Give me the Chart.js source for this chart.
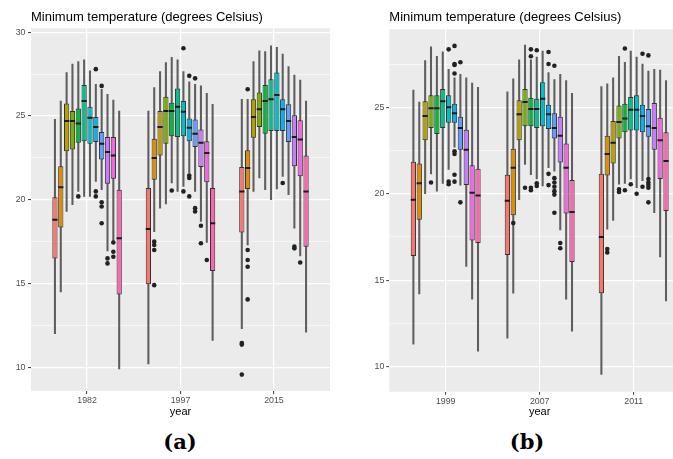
<!DOCTYPE html>
<html><head><meta charset="utf-8">
<script src="https://cdn.jsdelivr.net/npm/chart.js@4"></script>
<style>
html,body{margin:0;padding:0;background:#fff;width:673px;height:459px;overflow:hidden;position:relative}
#wa{position:absolute;left:0;top:0;width:340px;height:420px}
#wb{position:absolute;left:345px;top:0;width:360px;height:420px}
.lab{position:absolute;top:430px;line-height:24px;font-family:"DejaVu Serif",serif;font-weight:bold;font-size:21px;transform:translateX(-50%);color:#000;white-space:nowrap}
</style></head><body>
<div id="wa"><canvas id="ca"></canvas></div>
<div id="wb"><canvas id="cb"></canvas></div>
<div class="lab" style="left:180px">(a)</div>
<div class="lab" style="left:527px">(b)</div>
<script>
const monthColors = ['#F8766D','#DE8C00','#B79F00','#7CAE00','#00BA38','#00C08B','#00BFC4','#00B4F0','#619CFF','#C77CFF','#F564E3','#FF64B0'];
const titleText = 'Minimum temperature (degrees Celsius)';

// ---------- Panel (a) ----------
const yearsA = ['1982','1997','2015'];
const loA = [
  [12.0,14.5,19.3,19.7,20.5,20.2,20.2,21.1,20.6,16.95,17.5,9.9],
  [10.2,18.1,19.5,19.75,21.0,20.5,20.8,21.6,20.5,18.7,17.45,11.6],
  [12.3,17.3,20.5,21.3,20.6,20.0,20.65,21.4,20.3,18.3,16.65,12.1]
];
const q1A = [
  [16.5,18.35,22.9,23.0,23.4,23.5,23.35,23.45,22.4,20.95,21.25,14.35],
  [14.95,21.2,22.65,23.35,23.8,23.75,23.8,23.5,23.15,21.95,21.05,15.75],
  [18.05,20.65,23.7,24.35,23.95,24.1,24.1,24.1,23.45,22.0,21.4,17.2]
];
const medA = [
  [18.8,20.75,24.7,24.7,24.55,25.9,24.9,24.35,23.35,22.85,22.65,17.7],
  [18.25,22.5,24.35,25.3,25.3,25.55,25.25,24.3,23.95,23.4,22.8,18.6],
  [20.5,21.9,24.95,25.4,25.9,26.0,26.25,25.4,24.7,23.75,23.6,20.5]
];
const q3A = [
  [20.15,22.0,25.75,25.3,25.45,26.85,25.55,24.95,24.05,23.75,23.75,20.6],
  [20.7,23.65,25.3,26.15,25.8,26.65,25.9,24.85,24.8,24.2,23.5,20.7],
  [21.95,22.95,26.0,26.4,26.85,27.2,27.6,26.0,25.7,25.05,24.75,22.65]
];
const hiA = [
  [24.8,25.9,27.6,28.1,28.25,28.35,27.7,26.9,26.6,26.3,25.95,25.3],
  [25.3,26.7,27.65,28.2,28.5,28.35,27.65,27.05,26.9,26.8,26.35,25.7],
  [26.0,26.0,28.25,28.9,28.85,29.2,29.1,28.7,27.95,27.45,27.15,25.9]
];
const outA = [
  [[],[],[],[],[20.2],[],[],[27.8,20.5,20.2],[26.8,19.85,19.6,18.6],[16.5,16.2],[17.45,16.9,16.6],[]],
  [[],[17.5,17.3,17.0,14.9],[],[],[20.55],[],[29.05,20.5],[27.4,21.45,21.3,20.2],[27.25,19.5,19.3],[18.45,17.4],[16.4],[]],
  [[11.45,11.35,9.56],[26.6,17.0,16.4,16.0,14.05],[],[],[],[],[],[21.0],[],[17.2,17.1],[16.25],[]]
];
const yMajorA = [10,15,20,25,30];
const yMinorA = [12.5,17.5,22.5,27.5];

// ---------- Panel (b) ----------
const yearsB = ['1999','2007','2011'];
const loB = [
  [11.3,14.2,20.0,21.15,20.15,20.6,21.4,22.7,20.5,15.8,13.9,10.9],
  [11.65,14.25,19.65,21.7,21.1,20.85,20.45,21.5,21.3,17.9,13.9,12.05],
  [9.55,17.95,18.45,20.55,20.6,20.85,20.35,20.75,20.95,18.9,16.35,13.8]
];
const q1B = [
  [16.4,18.5,23.1,23.8,23.45,23.8,24.1,24.1,22.55,20.5,17.3,17.15],
  [16.45,18.75,23.1,23.9,23.9,23.8,23.9,23.75,23.2,21.8,18.85,16.05],
  [14.25,21.05,21.75,23.2,23.55,23.65,23.65,23.55,23.3,22.55,20.85,19.0]
];
const medB = [
  [19.65,20.6,24.5,24.95,24.95,25.35,25.0,24.65,23.8,22.55,20.05,19.9],
  [19.6,21.5,24.6,25.3,24.9,24.9,25.5,24.6,23.8,23.35,21.5,18.95],
  [17.5,22.3,22.95,24.15,24.35,24.85,24.85,24.5,23.9,23.8,23.1,21.9]
];
const q3B = [
  [21.85,21.75,25.35,25.7,25.7,26.05,25.7,25.2,24.45,23.7,21.65,21.45],
  [21.1,22.6,25.4,26.05,25.55,25.5,26.45,25.15,24.65,24.45,22.9,20.8],
  [21.15,23.35,24.2,25.1,25.2,25.6,25.7,25.15,24.9,25.25,24.4,23.55]
];
const hiB = [
  [26.0,25.3,27.7,28.5,27.95,28.2,27.2,26.7,26.9,26.7,26.4,26.15],
  [25.9,26.65,27.75,28.6,27.75,27.9,28.25,27.0,26.6,26.9,26.55,25.8],
  [26.2,26.35,26.7,27.95,27.6,28.25,27.9,27.5,27.1,27.2,27.15,26.55]
];
const outB = [
  [[],[],[],[20.65],[],[],[28.35,20.7,20.55],[28.55,27.5,27.45,26.95,22.45,22.3,21.1,20.7],[27.6,19.5],[],[],[]],
  [[],[18.3],[],[20.35],[28.35,27.95,20.35,20.2],[28.3,20.6,20.45],[],[28.2,27.5,21.15,20.5],[27.4,20.9,20.65,20.4,20.15,19.95,18.9],[17.15,16.85],[],[]],
  [[],[16.8,16.6],[],[20.25,20.1],[28.4,20.2],[20.55],[20.0],[28.1,20.4],[28.0,20.85,20.65,20.5,20.35,19.5],[],[],[]]
];
const yMajorB = [10,15,20,25];
const yMinorB = [12.5,17.5,22.5,27.5];

Chart.defaults.font.family = '"Liberation Sans", Arial, sans-serif';
Chart.defaults.animation = false;

const panelBg = {
  id: 'panelBg',
  beforeDraw(chart) {
    const a = chart.chartArea, ctx = chart.ctx;
    ctx.save(); ctx.fillStyle = '#EBEBEB';
    ctx.fillRect(a.left, a.top, a.right - a.left, a.bottom - a.top);
    ctx.restore();
  }
};

function buildPanel(id, cfg) {
  const dodge = 0.75 / 12;
  const xOf = (g, m) => g + 1 + (m - 5.5) * dodge;
  const boxes = [], whiskers = [], medians = [], outliers = [];
  for (let g = 0; g < cfg.years.length; g++) {
    for (let m = 0; m < 12; m++) {
      const x = xOf(g, m);
      boxes.push({x, y: [cfg.q1[g][m], cfg.q3[g][m]]});
      whiskers.push({x, y: [cfg.lo[g][m], cfg.hi[g][m]]});
      medians.push({x, y: cfg.med[g][m]});
      cfg.out[g][m].forEach(v => outliers.push({x, y: v}));
    }
  }
  const allTicks = cfg.yMajor.concat(cfg.yMinor).sort((a, b) => a - b);
  const isMajor = v => cfg.yMajor.includes(v);
  new Chart(document.getElementById(id), {
    type: 'bar',
    data: {
      datasets: [
        {type: 'bar', data: whiskers, backgroundColor: '#5e5e5e', barThickness: 1.4, grouped: false, order: 3, borderWidth: 0},
        {type: 'bar', data: boxes, backgroundColor: c => monthColors[c.dataIndex % 12], borderColor: '#333333', borderWidth: 1,
          borderSkipped: false, grouped: false, barPercentage: 0.9, categoryPercentage: 1, order: 2},
        {type: 'scatter', data: medians, pointStyle: 'line', pointRadius: 2.6, pointHoverRadius: 2.6,
          borderColor: '#1a1a1a', pointBorderColor: '#1a1a1a', pointBorderWidth: 2, borderWidth: 2, order: 1},
        {type: 'scatter', data: outliers, pointRadius: 2.3, pointHoverRadius: 2.3, backgroundColor: '#222222',
          pointBackgroundColor: '#222222', borderWidth: 0, pointBorderWidth: 0, order: 0}
      ]
    },
    options: {
      responsive: true, maintainAspectRatio: false, events: [],
      layout: {padding: cfg.pad},
      plugins: {
        legend: {display: false}, tooltip: {enabled: false},
        title: {display: true, text: titleText, align: 'start', fullSize: false, color: '#000',
          font: {size: 13, weight: 'normal'}, padding: cfg.titlePad}
      },
      scales: {
        x: {
          type: 'linear', min: 0.4, max: 3.6, offset: false,
          afterBuildTicks: s => { s.ticks = cfg.years.map((_, i) => ({value: i + 1})); },
          afterFit: s => { s.height = cfg.xAxisH; },
          grid: {offset: false, color: '#FFFFFF', lineWidth: 1.2, tickColor: '#333333', tickLength: 3, tickWidth: 1},
          border: {display: false},
          ticks: {autoSkip: false, maxRotation: 0, padding: 1.5, color: '#4D4D4D', font: {size: 8.8},
            callback: v => cfg.years[Math.round(v) - 1]},
          title: {display: true, text: 'year', color: '#000', font: {size: 11}, padding: {top: 0, bottom: 0}}
        },
        y: {
          type: 'linear', min: cfg.yMin, max: cfg.yMax, beginAtZero: false,
          afterBuildTicks: s => { s.ticks = allTicks.map(v => ({value: v})); },
          afterFit: s => { s.width = cfg.yAxisW; },
          grid: {color: '#FFFFFF', lineWidth: c => isMajor(c.tick.value) ? 1.2 : 0.6,
            tickColor: c => isMajor(c.tick.value) ? '#333333' : 'rgba(0,0,0,0)', tickLength: 3, tickWidth: 1},
          border: {display: false},
          ticks: {autoSkip: false, padding: cfg.yPad, color: '#4D4D4D', font: {size: 8.8},
            callback: v => isMajor(v) ? String(v) : ''}
        }
      }
    },
    plugins: [panelBg]
  });
}

buildPanel('ca', {years: yearsA, lo: loA, q1: q1A, med: medA, q3: q3A, hi: hiA, out: outA,
  yMajor: yMajorA, yMinor: yMinorA, yMin: 8.58, yMax: 30.24,
  pad: {left: 0, right: 10, top: 0, bottom: 1}, titlePad: {top: 9.2, bottom: 3.5}, xAxisH: 28, yAxisW: 31, yPad: 2.5});
buildPanel('cb', {years: yearsB, lo: loB, q1: q1B, med: medB, q3: q3B, hi: hiB, out: outB,
  yMajor: yMajorB, yMinor: yMinorB, yMin: 8.55, yMax: 29.51,
  pad: {left: 0, right: 14.9, top: 0, bottom: 1}, titlePad: {top: 9.2, bottom: 4.5}, xAxisH: 27.3, yAxisW: 44.3, yPad: 2});
</script></body></html>
